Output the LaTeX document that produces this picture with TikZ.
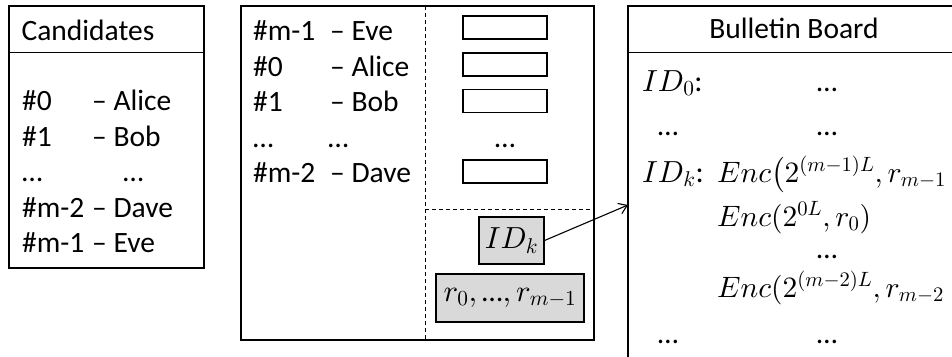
\documentclass[tikz,border=0pt]{standalone}
\usepackage{amsmath}
\usepackage[no-math]{fontspec}
\setmainfont{Carlito}
% scalable Computer Modern math fonts
\DeclareFontFamily{OML}{cmm}{\skewchar\font'177}
\DeclareFontShape{OML}{cmm}{m}{it}{<-> cmmi10}{}
\DeclareFontFamily{OMS}{cmsy}{\skewchar\font'60}
\DeclareFontShape{OMS}{cmsy}{m}{n}{<-> cmsy10}{}
\DeclareFontFamily{OMX}{cmex}{}
\DeclareFontShape{OMX}{cmex}{m}{n}{<-> cmex10}{}
\DeclareFontShape{OT1}{cmr}{m}{n}{<-> cmr10}{}
\usetikzlibrary{arrows.meta}
\definecolor{boxgray}{HTML}{D9D9D9}
\newcommand{\bigfont}{\fontsize{29.5}{35}\selectfont}
\newcommand{\mathsz}{\fontsize{30.5}{36}\selectfont}
\newcommand{\encsz}{\fontsize{29.5}{35}\selectfont}
\tikzset{
  frame/.style={draw, line width=1.2pt},
  slot/.style={draw, line width=1.1pt, minimum width=84pt, minimum height=23pt, inner sep=0pt},
  grayslot/.style={draw, line width=1.1pt, fill=boxgray, inner sep=0pt, font=\mathsz},
  txt/.style={anchor=base west, inner sep=0pt, font=\bigfont},
  mtxt/.style={anchor=base west, inner sep=0pt, font=\mathsz},
  etxt/.style={anchor=base west, inner sep=0pt, font=\encsz},
  ctxt/.style={anchor=base, inner sep=0pt, font=\bigfont},
  divider/.style={line width=0.8pt, dash pattern=on 4pt off 3pt},
  link/.style={line width=1.1pt, -{Straight Barb[length=8pt, width=11pt, line width=1.1pt]}}
}
\begin{document}
\begin{tikzpicture}[x=1pt, y=-1pt]
\useasboundingbox (0,0) rectangle (952,356);
\clip (0,0) rectangle (952,356);

% candidate list
\node[frame, minimum width=195pt, minimum height=262pt, inner sep=0pt] (cand) at (106.5,137) {};
\draw[line width=1pt] (cand.north west |- 0,52) -- (cand.north east |- 0,52);
\node[ctxt] (candtitle) at (88,40) {Candidates};
\node[txt] (c0a) at (22,110) {\#0};   \node[txt] (c0b) at (92,110) {– Alice};
\node[txt] (c1a) at (22,146) {\#1};   \node[txt] (c1b) at (92,146) {– Bob};
\node[txt] (c2a) at (22,181) {…};     \node[txt] (c2b) at (123,181) {…};
\node[txt] (c3a) at (22,217) {\#m-2}; \node[txt] (c3b) at (92,217) {– Dave};
\node[txt] (c4a) at (22,252) {\#m-1}; \node[txt] (c4b) at (92,252) {– Eve};

% shuffled list with ballot slots
\node[frame, minimum width=353pt, minimum height=334pt, inner sep=0pt] (mix) at (417.5,173) {};
\coordinate (vtop) at (425,6);
\coordinate (vbot) at (425,340);
\draw[divider] (vtop) -- (vbot);
\coordinate (hleft) at (425,209);
\coordinate (hright) at (594,209);
\draw[divider] (hleft) -- (hright);
\node[txt] (m0a) at (253,40) {\#m-1}; \node[txt] (m0b) at (330,40) {– Eve};
\node[txt] (m1a) at (253,76) {\#0};   \node[txt] (m1b) at (330,76) {– Alice};
\node[txt] (m2a) at (253,111) {\#1};  \node[txt] (m2b) at (330,111) {– Bob};
\node[txt] (m3a) at (253,147) {…};    \node[txt] (m3b) at (328,147) {…};
\node[txt] (m4a) at (253,182) {\#m-2}; \node[txt] (m4b) at (330,182) {– Dave};
\node[slot] (s0) at (505,27.5) {};
\node[slot] (s1) at (505,64.5) {};
\node[slot] (s2) at (505,101) {};
\node[ctxt] (sdots) at (505,147) {…};
\node[slot] (s4) at (505,171.5) {};
\node[grayslot, minimum width=65pt, minimum height=47pt] (idk) at (511.5,240.5) {$ID_k$};
\node[grayslot, minimum width=148pt, minimum height=48pt] (rs) at (510,298) {$r_0, \mbox{\bigfont …}, r_{m-1}$};

% bulletin board
\coordinate (bbl) at (628,360);
\coordinate (btl) at (628,6);
\coordinate (btr) at (960,6);
\draw[line width=1.2pt] (bbl) -- (btl) -- (btr);
\draw[line width=1pt] (628,52) -- (960,52);
\node[ctxt] (bbtitle) at (794,38) {Bulletin Board};
\node[mtxt] (b0) at (642,91) {$ID_0$:};
\node[ctxt] (b0d) at (827,91) {…};
\node[ctxt] (b1) at (668,135) {…};
\node[ctxt] (b1d) at (827,135) {…};
\node[mtxt] (bk) at (642,182) {$ID_k$:};
\node[etxt] (e0) at (717,182) {$Enc\bigl(2^{(m-1)L}, r_{m-1}$};
\node[etxt] (e1) at (717,226) {$Enc(2^{0L}, r_0)$};
\node[ctxt] (edots) at (827,258) {…};
\node[etxt] (e2) at (717,297) {$Enc(2^{(m-2)L}, r_{m-2}$};
\node[ctxt] (b3) at (668,343) {…};
\node[ctxt] (b3d) at (827,343) {…};

\coordinate (post) at (628,205);
\draw[link] (idk.east) -- (post);
\end{tikzpicture}
\end{document}
